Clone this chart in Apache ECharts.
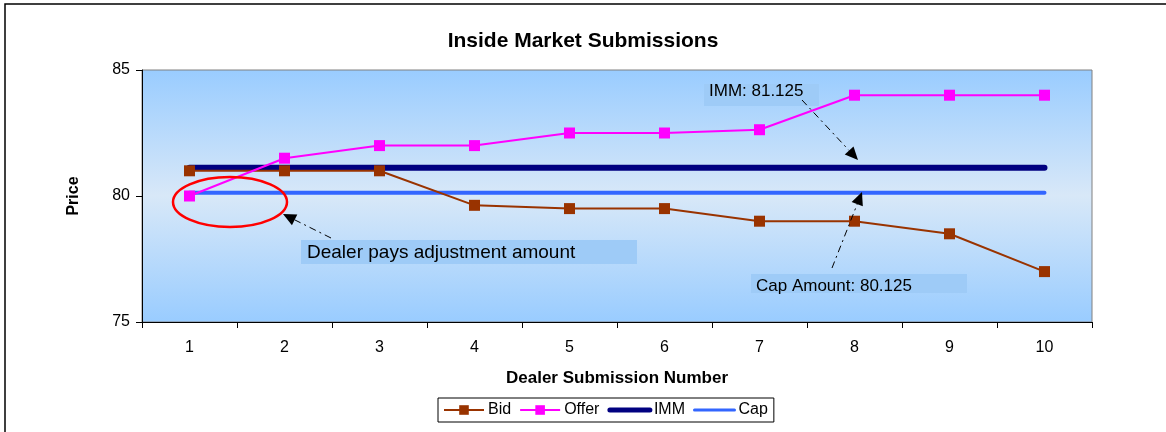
<!DOCTYPE html>
<html lang="en">
<head>
    <meta charset="utf-8">
    <title>Inside Market Submissions</title>
    <script type="text/javascript" src="https://cdn.jsdelivr.net/npm/echarts/dist/echarts.min.js"></script>
    <style>
        html, body { margin: 0; padding: 0; background: #fff; }
    </style>
</head>
<body>
    <div id="chart" style="width: 1166px; height: 432px;"></div>

    <script type="text/javascript" charset="utf-8">
        // data
        var submissions = ['1', '2', '3', '4', '5', '6', '7', '8', '9', '10'];
        var bid = [81, 81, 81, 79.63, 79.5, 79.5, 79, 79, 78.5, 77];
        var offer = [80, 81.5, 82, 82, 82.5, 82.5, 82.63, 84, 84, 84];
        var imm = [81.125, 81.125, 81.125, 81.125, 81.125, 81.125, 81.125, 81.125, 81.125, 81.125];
        var cap = [80.125, 80.125, 80.125, 80.125, 80.125, 80.125, 80.125, 80.125, 80.125, 80.125];

        var font = 'Liberation Sans, Arial, sans-serif';

        // dash-dot arrow: line + filled triangle head at (x2, y2)
        function arrow(x1, y1, x2, y2) {
            var dx = x2 - x1, dy = y2 - y1;
            var len = Math.sqrt(dx * dx + dy * dy);
            var ux = dx / len, uy = dy / len;
            var hl = 13, hw = 6;
            var bx = x2 - ux * hl, by = y2 - uy * hl;
            return [{
                type: 'line',
                shape: { x1: x1, y1: y1, x2: bx, y2: by },
                style: { stroke: '#000', lineWidth: 1, lineDash: [7, 4, 2, 4] },
                z: 100
            }, {
                type: 'polygon',
                shape: { points: [[x2, y2], [bx - uy * hw, by + ux * hw], [bx + uy * hw, by - ux * hw]] },
                style: { fill: '#000' },
                z: 100
            }];
        }

        // text box: rect (x, y, w, h), text starts at tx with its middle at ty
        function label(x, y, w, h, tx, ty, text, size) {
            return [{
                type: 'rect',
                shape: { x: x, y: y, width: w, height: h },
                style: { fill: '#9ECBF7' },
                z: 90
            }, {
                type: 'text',
                x: tx,
                y: ty,
                style: { text: text, fill: '#000', font: size + 'px ' + font, verticalAlign: 'middle' },
                z: 91
            }];
        }

        var annotations = [].concat(
            [{
                type: 'rect',
                shape: { x: 5, y: 4, width: 1300, height: 600 },
                style: { fill: 'none', stroke: '#000', lineWidth: 1.5 },
                silent: true,
                z: 0
            }],
            label(301, 240, 336, 24, 307, 253, 'Dealer pays adjustment amount', 19),
            label(704, 84, 115, 22, 709, 91, 'IMM: 81.125', 17),
            label(751, 274, 216, 19, 756, 286, 'Cap Amount: 80.125', 17),
            arrow(331, 238, 283, 214),
            arrow(802, 100, 858, 160),
            arrow(832, 268, 862, 192),
            [{
                type: 'ellipse',
                shape: { cx: 230, cy: 202, rx: 57, ry: 25 },
                style: { fill: 'none', stroke: '#FF0000', lineWidth: 2.5 },
                z: 100
            }]
        );

        var myChart = echarts.init(document.getElementById('chart'));
        myChart.setOption({
            animation: false,
            backgroundColor: '#fff',
            textStyle: { fontFamily: font },
            title: {
                text: 'Inside Market Submissions',
                left: 'center',
                top: 26,
                textStyle: { fontSize: 21, fontWeight: 'bold', color: '#000', fontFamily: font }
            },
            grid: {
                left: 142,
                top: 70,
                width: 950,
                height: 252,
                show: true,
                borderColor: '#808080',
                borderWidth: 1,
                backgroundColor: new echarts.graphic.LinearGradient(0, 0, 0, 1, [
                    { offset: 0, color: '#99CCFF' },
                    { offset: 0.5, color: '#D8E8F8' },
                    { offset: 1, color: '#99CCFF' }
                ])
            },
            xAxis: {
                type: 'category',
                data: submissions,
                boundaryGap: true,
                name: 'Dealer Submission Number',
                nameLocation: 'middle',
                nameGap: 48,
                nameTextStyle: { fontSize: 17, fontWeight: 'bold', color: '#000' },
                axisLine: { lineStyle: { color: '#000', width: 1 } },
                axisTick: { show: true, length: 6, lineStyle: { color: '#000' } },
                axisLabel: { fontSize: 16, color: '#000', margin: 18 },
                splitLine: { show: false }
            },
            yAxis: {
                type: 'value',
                min: 75,
                max: 85,
                interval: 5,
                name: 'Price',
                nameLocation: 'middle',
                nameRotate: 90,
                nameGap: 60,
                nameTextStyle: { fontSize: 16, fontWeight: 'bold', color: '#000' },
                axisLine: { show: true, lineStyle: { color: '#000', width: 1 } },
                axisTick: { show: true, length: 6, lineStyle: { color: '#000' } },
                axisLabel: { fontSize: 16, color: '#000', margin: 12 },
                splitLine: { show: false }
            },
            legend: {
                top: 398,
                left: 438,
                itemGap: 8,
                itemWidth: 40,
                itemHeight: 12,
                padding: [4, 6, 4, 5],
                borderColor: '#000',
                borderWidth: 1,
                borderRadius: 0,
                textStyle: { fontSize: 16, color: '#000', padding: [0, 0, 0, -1] },
                data: [
                    'Bid',
                    'Offer',
                    { name: 'IMM', itemStyle: { opacity: 0 }, lineStyle: { width: 5, cap: 'round' } },
                    { name: 'Cap', itemStyle: { opacity: 0 }, lineStyle: { width: 3, cap: 'round' } }
                ]
            },
            series: [{
                name: 'IMM',
                type: 'line',
                data: imm,
                symbol: 'none',
                color: '#000080',
                lineStyle: { color: '#000080', width: 6, cap: 'round' },
                z: 2
            }, {
                name: 'Cap',
                type: 'line',
                data: cap,
                symbol: 'none',
                color: '#3366FF',
                lineStyle: { color: '#3366FF', width: 4, cap: 'round' },
                z: 2
            }, {
                name: 'Bid',
                type: 'line',
                data: bid,
                symbol: 'rect',
                symbolSize: 11,
                color: '#993300',
                itemStyle: { color: '#993300' },
                lineStyle: { color: '#993300', width: 2 },
                z: 3
            }, {
                name: 'Offer',
                type: 'line',
                data: offer,
                symbol: 'rect',
                symbolSize: 11,
                color: '#FF00FF',
                itemStyle: { color: '#FF00FF' },
                lineStyle: { color: '#FF00FF', width: 2 },
                z: 4
            }],
            graphic: annotations
        });
    </script>
</body>
</html>
